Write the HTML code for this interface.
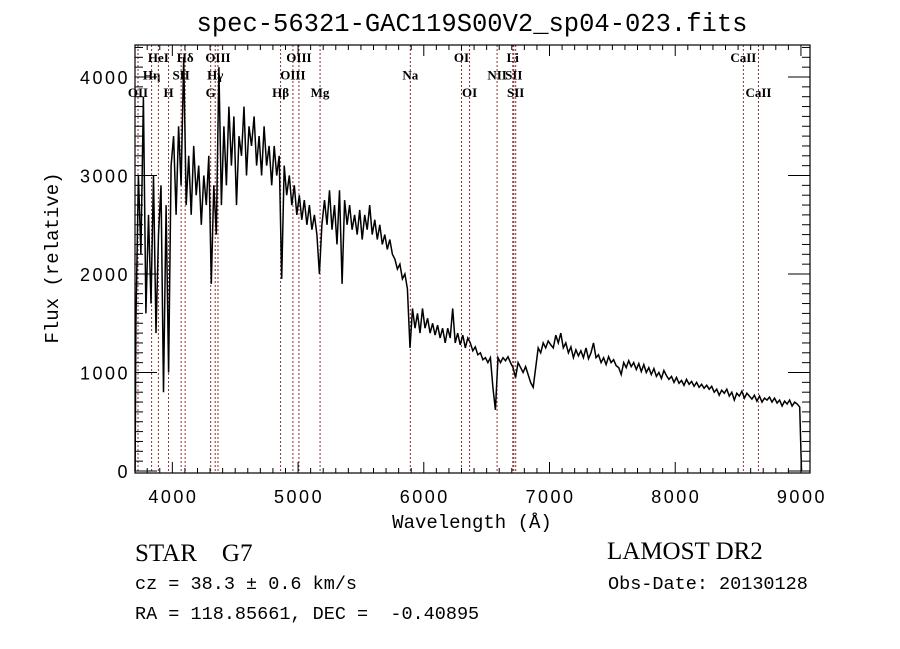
<!DOCTYPE html>
<html><head><meta charset="utf-8"><style>
body{margin:0;background:#fff;}
svg{display:block;}
text{fill:#000;}
.tk{font-family:"Liberation Sans",sans-serif;font-size:18px;letter-spacing:2.5px;}
.ln{font-family:"Liberation Serif",serif;font-size:13px;font-weight:bold;}
.mono{font-family:"Liberation Mono",monospace;}
</style></head><body>
<svg id="chart" width="900" height="649" viewBox="0 0 900 649">
<rect x="0" y="0" width="900" height="649" fill="#fff"/>
<text x="472" y="31" text-anchor="middle" class="mono" font-size="25.5">spec-56321-GAC119S00V2_sp04-023.fits</text>
<g id="lines"></g>
<g id="spec"></g>
<g id="axes"></g>
<text x="472" y="528" text-anchor="middle" class="mono" font-size="19">Wavelength (Å)</text>
<text transform="translate(58,258) rotate(-90)" text-anchor="middle" class="mono" font-size="19">Flux (relative)</text>
<text x="135" y="561" font-family="Liberation Serif,serif" font-size="25" xml:space="preserve">STAR    G7</text>
<text x="135" y="589" class="mono" font-size="18.5">cz = 38.3 ± 0.6 km/s</text>
<text x="135" y="619" class="mono" font-size="18.5" xml:space="preserve">RA = 118.85661, DEC =  -0.40895</text>
<text x="607" y="559" font-family="Liberation Serif,serif" font-size="25">LAMOST DR2</text>
<text x="608" y="589" class="mono" font-size="18.5">Obs-Date: 20130128</text>
</svg>
<script>
const startWave = 3710;
const waveStep = 20;
const flux = [1500,3000,2200,3800,1600,2600,1700,3000,1400,2400,2900,800,2700,1000,3100,
3400,2600,3500,2900,4200,2700,3200,2600,3300,2800,3100,2500,3000,2700,3200,1900,2900,2400,4100,2700,3500,2900,3700,3100,3600,2700,3400,3200,3700,3000,3500,3300,3600,3100,3400,3000,3500,3100,3300,2900,3300,3000,3200,1950,3100,2800,3000,2700,2900,2600,2800,2550,2750,2500,2700,2450,2600,2400,2000,2500,2750,2500,2850,2450,2700,2300,2850,1900,2750,2500,2700,2450,2600,2400,2650,2350,2600,2450,2700,2400,2550,2350,2500,2300,2400,2250,2350,2200,2150,2050,2100,1950,2000,1850,1250,1650,1450,1600,1400,1650,1450,1550,1400,1500,1380,1480,1350,1450,1300,1450,1350,1650,1300,1400,1280,1380,1250,1350,1300,1220,1260,1180,1200,1130,1150,1100,1150,850,620,1150,1100,1150,1120,1160,1100,1050,950,1100,1050,1000,1060,980,900,850,1050,1250,1200,1300,1250,1320,1280,1250,1380,1300,1400,1250,1300,1200,1260,1150,1230,1170,1220,1150,1250,1140,1200,1300,1150,1180,1100,1150,1080,1160,1100,1130,1070,1050,980,1100,1050,1120,1060,1100,1030,1090,1010,1080,1000,1050,980,1040,960,1000,940,1020,970,930,960,900,950,890,920,870,930,880,910,860,900,850,880,840,870,830,860,800,830,770,820,790,830,760,800,720,790,760,810,740,790,760,730,770,710,760,700,740,720,750,700,740,690,720,660,710,680,720,660,700,680,650];
const edgeWaves = [3704, 9004];
const edgeFlux = [0, 0];
const lineWaves = [3727,3835,3889,3970,4070,4102,4305,4341,4363,4861,4959,5007,5175,5893,6300,6364,6583,6708,6716,6731,8542,8662];
const lineLabels = ["OII","Hη","HeI","H","SII","Hδ","G","Hγ","OIII","Hβ","OIII","OIII","Mg","Na","OI","OI","NII","Li","SII","SII","CaII","CaII"];
const lineRows = [2,1,0,2,1,0,2,1,0,2,1,0,2,1,0,2,1,0,1,2,0,2];
const xTicks = [4000,5000,6000,7000,8000,9000];
const yTicks = [0,1000,2000,3000,4000];

const X0=135, X1=810, Y0=45, Y1=473;
const W0=3703, W1=9072;
function xs(w){return X0+(w-W0)/(W1-W0)*(X1-X0);}
function ys(f){return 471-f*0.0985;}
const NS='http://www.w3.org/2000/svg';
function mk(tag,attrs,parent){const e=document.createElementNS(NS,tag);for(const k in attrs)e.setAttribute(k,attrs[k]);parent.appendChild(e);return e;}

const gl=document.getElementById('lines');
lineWaves.forEach((w,i)=>{
  const x=xs(w);
  const l=mk('line',{x1:x,x2:x,y1:Y0,y2:Y1,stroke:'#8b3030','stroke-width':1,'stroke-dasharray':'2,2'},gl);
  
  
  const t=mk('text',{x:x,y:62+lineRows[i]*17.5,'text-anchor':'middle',class:'ln'},gl);
  t.textContent=lineLabels[i];
  
  
});

const gs=document.getElementById('spec');
let pts=[[xs(edgeWaves[0]),ys(edgeFlux[0])]];
flux.forEach((f,i)=>pts.push([xs(startWave+i*waveStep),ys(f)]));
pts.push([xs(edgeWaves[1]),ys(edgeFlux[1])]);
const p=mk('polyline',{points:pts.map(q=>q[0].toFixed(1)+','+q[1].toFixed(1)).join(' '),fill:'none',stroke:'#000','stroke-width':1.5,'stroke-linejoin':'miter'},gs);



const ga=document.getElementById('axes');
const fr=mk('rect',{x:X0,y:Y0,width:X1-X0,height:Y1-Y0,fill:'none',stroke:'#000','stroke-width':1.2},ga);


for(let w=3800;w<=9000;w+=100){
  const x=xs(w), big=(w%1000===0), L=big?11:5;
  mk('line',{x1:x,x2:x,y1:Y1,y2:Y1-L,stroke:'#000'},ga);
  mk('line',{x1:x,x2:x,y1:Y0,y2:Y0+L,stroke:'#000'},ga);
}
for(let f=0;f<=4300;f+=100){
  const y=ys(f), big=(f%1000===0), L=big?22:8;
  mk('line',{x1:X0,x2:X0+L,y1:y,y2:y,stroke:'#000'},ga);
  mk('line',{x1:X1,x2:X1-L,y1:y,y2:y,stroke:'#000'},ga);
}
xTicks.forEach(w=>{
  const t=mk('text',{x:xs(w)+1,y:503,'text-anchor':'middle',class:'tk'},ga);
  t.textContent=w;
  
  
});
yTicks.forEach(f=>{
  const t=mk('text',{x:130,y:ys(f)+7,'text-anchor':'end',class:'tk'},ga);
  t.textContent=f;
  
  
});
</script>
</body></html>
